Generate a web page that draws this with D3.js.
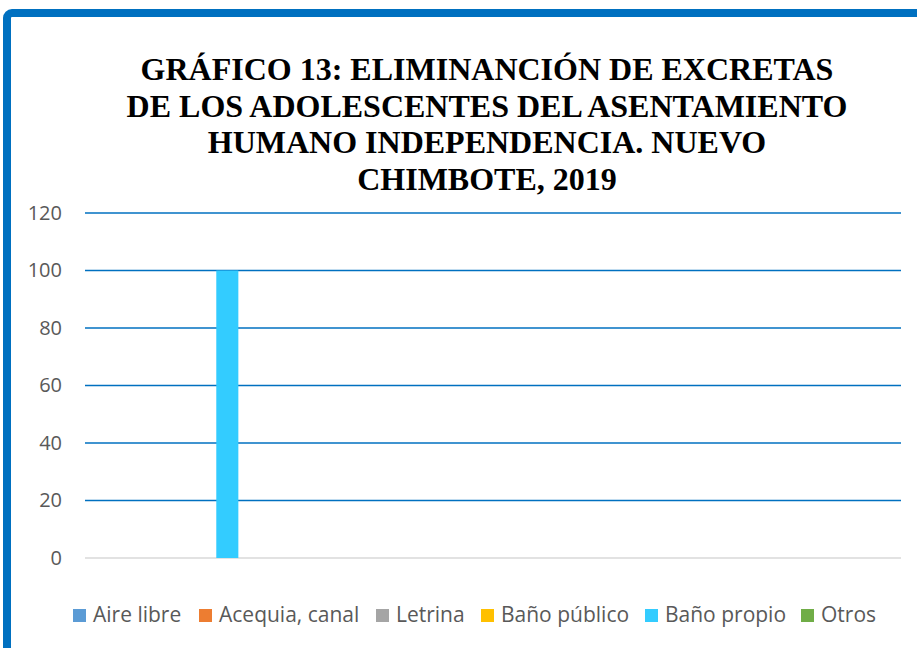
<!DOCTYPE html>
<html>
<head>
<meta charset="utf-8">
<script src="https://cdn.jsdelivr.net/npm/d3@7"></script>
<style>
  html, body { margin: 0; padding: 0; background: #fff; }
  #chart { width: 917px; height: 648px; }
</style>
</head>
<body>
<div id="chart"></div>
<script>
let titleLines = ["GRÁFICO 13: ELIMINANCIÓN DE EXCRETAS",
                  "DE LOS ADOLESCENTES DEL ASENTAMIENTO",
                  "HUMANO INDEPENDENCIA. NUEVO",
                  "CHIMBOTE, 2019"];
let categories = [""];                        //una sola categoría
let series = ["Aire libre", "Acequia, canal", "Letrina", "Baño público", "Baño propio", "Otros"];
let values = [0, 0, 0, 0, 100, 0];            //porcentaje por serie
let colors = ["#5B9BD5", "#ED7D31", "#A5A5A5", "#FFC000", "#33CCFF", "#70AD47"];
let yTicks = [0, 20, 40, 60, 80, 100, 120];

let width = 917, height = 648;
let plotLeft = 85, plotRight = 901, plotTop = 213, plotBottom = 558;

let svg = d3.select("#chart").append("svg")
  .attr("width", width)
  .attr("height", height);

svg.append("rect")                            //modrý rámeček
  .attr("x", 7).attr("y", 13)
  .attr("width", 940).attr("height", 680)
  .attr("rx", 5)
  .attr("fill", "none")
  .attr("stroke", "#0070C0")
  .attr("stroke-width", 8);

svg.append("text")                            //titulek
  .attr("text-anchor", "middle")
  .attr("font-family", "'Liberation Serif', 'Times New Roman', serif")
  .attr("font-weight", "bold")
  .attr("font-size", 32)
  .attr("fill", "#000")
  .selectAll("tspan")
  .data(titleLines)
  .join("tspan")
  .attr("x", 487)
  .attr("y", (d, i) => 80 + i * 36.7)
  .text(d => d);

let Y = d3.scaleLinear().domain([0, 120]).range([plotBottom, plotTop]);

let X0 = d3.scaleBand().domain(categories).range([plotLeft, plotRight]);
let X1 = d3.scaleBand().domain(series).range([0, X0.bandwidth()])
  .paddingInner(0).paddingOuter(15.5).align(0.063);

svg.append("g")                               //mřížka
  .selectAll("line")
  .data(yTicks)
  .join("line")
  .attr("x1", plotLeft).attr("x2", plotRight)
  .attr("y1", d => Y(d)).attr("y2", d => Y(d))
  .attr("stroke", d => d === 0 ? "#D9D9D9" : "#0070C0")
  .attr("stroke-width", d => d === 0 ? 1.5 : 1.6);

let yAxis = svg.append("g")
  .attr("transform", "translate(" + plotLeft + ",0)")
  .call(d3.axisLeft(Y).tickValues(yTicks).tickSize(0).tickPadding(23));
yAxis.select(".domain").remove();
yAxis.selectAll("text")
  .attr("font-family", "'Open Sans', sans-serif")
  .attr("font-size", 20)
  .attr("fill", "#595959");

svg.append("g")                               //sloupce
  .selectAll("rect")
  .data(series.map((s, i) => ({ s: s, v: values[i], c: colors[i] })))
  .join("rect")
  .attr("x", d => X0(categories[0]) + X1(d.s))
  .attr("y", d => Y(d.v))
  .attr("width", X1.bandwidth())
  .attr("height", d => Y(0) - Y(d.v))
  .attr("fill", d => d.c);

let legendX = [73, 199, 376, 481, 645, 801];  //legenda
let legend = svg.append("g")
  .selectAll("g")
  .data(series)
  .join("g")
  .attr("transform", (d, i) => "translate(" + legendX[i] + ",609)");
legend.append("rect")
  .attr("width", 13).attr("height", 13)
  .attr("fill", (d, i) => colors[i]);
legend.append("text")
  .attr("x", 20).attr("y", 13)
  .attr("font-family", "'Open Sans', sans-serif")
  .attr("font-size", 21)
  .attr("fill", "#595959")
  .text(d => d);
</script>
</body>
</html>
